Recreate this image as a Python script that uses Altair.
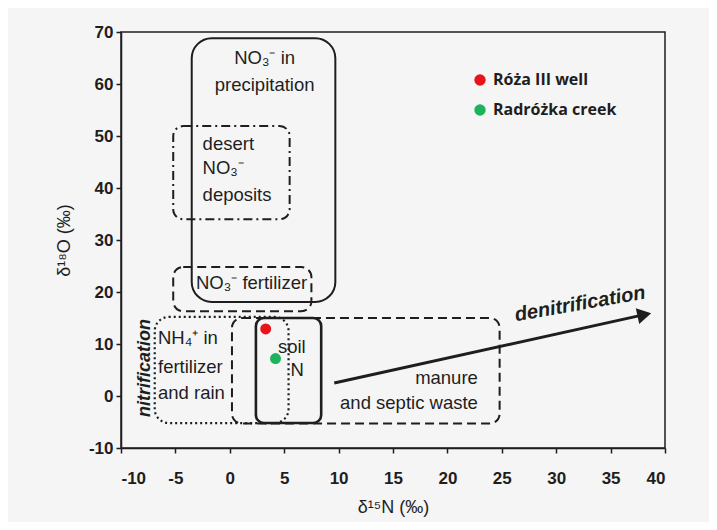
import altair as alt
import pandas as pd

# ---- data ----
x_ticks = [-10, -5, 0, 5, 10, 15, 20, 25, 30, 35, 40]
y_ticks = [-10, 0, 10, 20, 30, 40, 50, 60, 70]

sample_names = ["Róża III well", "Radróżka creek"]
sample_d15n = [3.3, 4.2]
sample_d18o = [12.9, 7.2]
sample_colors = ["#e8131b", "#1db35a"]

# source boxes: [d15N min, d15N max, d18O min, d18O max]
precip_box = [-3.5, 9.7, 18.1, 68.8]
desert_box = [-5.2, 5.5, 34.0, 51.9]
fert_box = [-5.2, 7.5, 16.3, 24.8]
nh4_box = [-6.9, 5.4, -5.2, 15.2]
manure_box = [0.2, 24.8, -5.3, 15.0]
soil_box = [2.4, 8.4, -5.2, 15.0]

arrow_x = [9.6, 38.1]
arrow_y = [2.5, 15.65]

center_labels = ["NO₃⁻ in", "precipitation", "NO₃⁻ fertilizer", "soil", "N"]
center_x = [3.2, 3.2, 2.0, 5.7, 6.2]
center_y = [65.0, 59.8, 21.7, 9.4, 5.0]

left_labels = ["desert", "NO₃⁻", "deposits", "NH₄⁺ in", "fertilizer", "and rain"]
left_x = [-2.5, -2.5, -2.5, -6.6, -6.6, -6.6]
left_y = [48.5, 43.8, 38.7, 11.2, 5.6, 0.6]

right_labels = ["manure", "and septic waste"]
right_x = [22.8, 22.8]
right_y = [3.5, -1.3]

xs = alt.Scale(domain=[-10, 40], nice=False, zero=False)
ys = alt.Scale(domain=[-10, 70], nice=False, zero=False)
INK = "#1e1e1e"
FONT = "Liberation Sans"

x_axis = alt.Axis(values=x_ticks, title="δ¹⁵N (‰)", titlePadding=12,
                  labelPadding=17, labelExpr="datum.value + ''")
y_axis = alt.Axis(values=y_ticks, title="δ¹⁸O (‰)", titlePadding=15,
                  labelPadding=3, labelExpr="datum.value + ''")


def enc_x(field):
    return alt.X(field, type="quantitative", scale=xs, axis=x_axis)


def enc_y(field):
    return alt.Y(field, type="quantitative", scale=ys, axis=y_axis)


def box(b, dash=None, radius=10, width=2.0):
    df = pd.DataFrame({"x1": [b[0]], "x2": [b[1]], "y1": [b[2]], "y2": [b[3]]})
    kw = dict(fillOpacity=0, stroke=INK, strokeWidth=width, cornerRadius=radius)
    if dash:
        kw["strokeDash"] = dash
    return alt.Chart(df).mark_rect(**kw).encode(
        x=enc_x("x1"), x2="x2", y=enc_y("y1"), y2="y2"
    )


def labels(texts, xv, yv, align, size=18.5, weight="normal", style="normal",
           angle=0, font=FONT):
    df = pd.DataFrame({"t": texts, "x": xv, "y": yv})
    return alt.Chart(df).mark_text(
        align=align, baseline="middle", fontSize=size, font=font,
        fontWeight=weight, fontStyle=style, angle=angle, color=INK
    ).encode(x=enc_x("x"), y=enc_y("y"), text="t:N")


boxes = [
    box(precip_box, None, 20, 2.0),
    box(desert_box, [9, 4, 2, 4], 10, 2.0),
    box(fert_box, [9, 5], 10, 2.0),
    box(nh4_box, [2, 3], 14, 2.2),
    box(manure_box, [9, 5], 10, 2.0),
    box(soil_box, None, 8, 2.6),
]

arrow_df = pd.DataFrame({"x": arrow_x, "y": arrow_y})
arrow_line = alt.Chart(arrow_df).mark_line(color=INK, strokeWidth=3).encode(
    x=enc_x("x"), y=enc_y("y")
)
head_df = pd.DataFrame({"x": [arrow_x[-1]], "y": [arrow_y[-1]]})
arrow_head = alt.Chart(head_df).mark_point(
    shape="triangle-right", filled=True, size=260, angle=347.7,
    color=INK, opacity=1
).encode(x=enc_x("x"), y=enc_y("y"))

deni = labels(["denitrification"], [32.2], [17.7], "center", size=20,
              weight="bold", style="italic", angle=350)
nitri = labels(["nitrification"], [-7.8], [5.4], "center", size=18,
               weight="bold", style="italic", angle=270)

pts_df = pd.DataFrame({"name": sample_names, "x": sample_d15n, "y": sample_d18o})
points = alt.Chart(pts_df).mark_circle(size=120, opacity=1).encode(
    x=enc_x("x"), y=enc_y("y"),
    color=alt.Color(
        "name:N",
        scale=alt.Scale(domain=sample_names, range=sample_colors),
        legend=alt.Legend(
            title=None, orient="none", legendX=351, legendY=40,
            symbolType="circle", symbolSize=130, symbolStrokeWidth=0,
            labelFont="Open Sans", labelFontSize=16, labelFontWeight="bold",
            labelColor=INK, rowPadding=14, labelOffset=5, padding=0,
        ),
    ),
)

chart = alt.layer(
    *boxes,
    labels(center_labels, center_x, center_y, "center"),
    labels(left_labels, left_x, left_y, "left"),
    labels(right_labels, right_x, right_y, "right"),
    arrow_line, arrow_head, deni, nitri, points,
).properties(
    width=544, height=416,
    autosize=alt.AutoSizeParams(type="none"),
    padding={"left": 113, "top": 24, "right": 44, "bottom": 74},
    background="#f5f5f5",
).configure_view(
    stroke=INK, strokeWidth=1.5
).configure_axis(
    grid=False, labelFont=FONT, labelFontSize=17, labelFontWeight="bold",
    labelColor=INK, tickColor=INK, domainColor=INK, tickSize=5, tickWidth=1.5,
    domainWidth=1.5, titleFont=FONT, titleFontSize=18, titleFontWeight="normal",
    titleColor=INK,
)

chart.save("out.html", embed_options={"renderer": "svg", "actions": False})
